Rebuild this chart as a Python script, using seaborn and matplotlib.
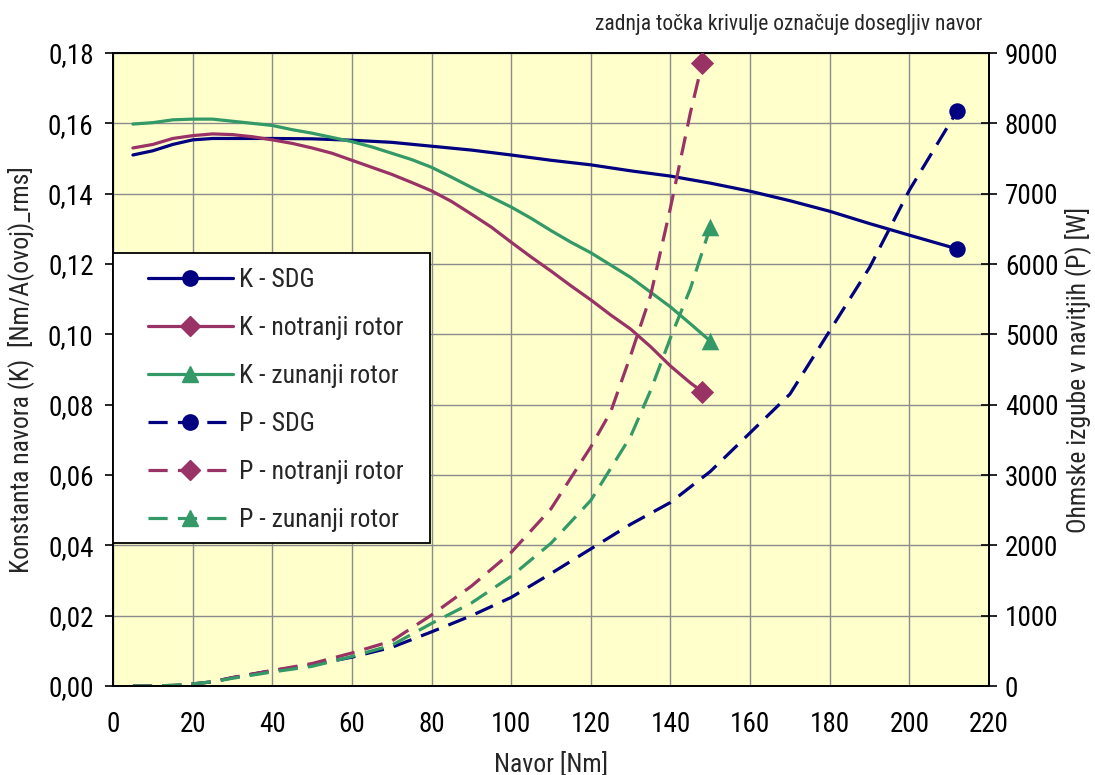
import numpy as np
import pandas as pd
import matplotlib
matplotlib.use("Agg")
import matplotlib.pyplot as plt
from matplotlib import font_manager
from matplotlib.lines import Line2D
from matplotlib.patches import Rectangle
from matplotlib.ticker import FuncFormatter
import seaborn as sns

# ---------------- data ----------------
x_k_sdg = [5, 10, 15, 20, 25, 30, 40, 50, 60, 70, 80, 90, 100, 110, 120, 130, 140, 150, 160, 170, 180, 190, 200, 212]
k_sdg = [0.1510, 0.1522, 0.1540, 0.1553, 0.1557, 0.1557, 0.1557, 0.1556, 0.1552, 0.1546, 0.1535, 0.1524, 0.1510,
         0.1495, 0.1482, 0.1465, 0.1450, 0.1430, 0.1407, 0.1380, 0.1350, 0.1315, 0.1282, 0.1243]

x_k_not = [5, 10, 15, 20, 25, 30, 35, 40, 45, 50, 55, 60, 65, 70, 75, 80, 85, 90, 95, 100, 105, 110, 115, 120,
           125, 130, 135, 140, 145, 148]
k_not = [0.1530, 0.1540, 0.1557, 0.1565, 0.1570, 0.1568, 0.1562, 0.1553, 0.1543, 0.1530, 0.1515, 0.1495, 0.1475,
         0.1455, 0.1432, 0.1408, 0.1378, 0.1342, 0.1305, 0.1262, 0.1220, 0.1180, 0.1138, 0.1098, 0.1055, 0.1015,
         0.0965, 0.0910, 0.0862, 0.0837]

x_k_zun = [5, 10, 15, 20, 25, 30, 35, 40, 45, 50, 55, 60, 65, 70, 75, 80, 85, 90, 95, 100, 105, 110, 115, 120,
           125, 130, 135, 140, 145, 150]
k_zun = [0.1598, 0.1602, 0.1610, 0.1612, 0.1612, 0.1606, 0.1600, 0.1594, 0.1582, 0.1572, 0.1560, 0.1548, 0.1533,
         0.1515, 0.1497, 0.1475, 0.1447, 0.1418, 0.1390, 0.1362, 0.1330, 0.1295, 0.1262, 0.1232, 0.1197, 0.1162,
         0.1120, 0.1078, 0.1030, 0.0981]

x_p_sdg = [5, 10, 15, 20, 25, 30, 40, 50, 60, 70, 80, 90, 100, 110, 120, 130, 140, 150, 160, 170, 180, 190, 200, 212]
p_sdg = [0, 0, 0, 30, 60, 120, 220, 300, 410, 550, 770, 1000, 1260, 1600, 1950, 2300, 2610, 3050, 3600, 4150,
         5050, 5950, 7050, 8175]

x_p_not = [5, 10, 15, 20, 25, 30, 40, 50, 60, 70, 80, 90, 100, 110, 120, 125, 130, 135, 140, 145, 148]
p_not = [0, 0, 10, 30, 60, 120, 220, 320, 470, 640, 1010, 1420, 1900, 2520, 3400, 3900, 4700, 5550, 6800, 8150, 8858]

x_p_zun = [5, 10, 15, 20, 25, 30, 40, 50, 60, 70, 80, 90, 100, 110, 120, 130, 135, 140, 145, 150]
p_zun = [0, 0, 10, 30, 60, 110, 200, 280, 420, 580, 890, 1180, 1560, 2030, 2640, 3550, 4200, 4950, 5650, 6525]

labels = ["K - SDG", "K - notranji rotor", "K - zunanji rotor",
          "P - SDG", "P - notranji rotor", "P - zunanji rotor"]
x_ticks = list(range(0, 221, 20))
y_left_ticks = [0.00, 0.02, 0.04, 0.06, 0.08, 0.10, 0.12, 0.14, 0.16, 0.18]
y_right_ticks = list(range(0, 9001, 1000))

# ---------------- style ----------------
sns.set_theme(style="white")
avail = {f.name for f in font_manager.fontManager.ttflist}
family = "DejaVu Sans"
for cand in ["Liberation Sans Narrow", "Roboto Condensed", "Open Sans Condensed", "Liberation Sans"]:
    if cand in avail:
        family = cand
        break
plt.rcParams["font.family"] = [family, "DejaVu Sans"]

NAVY = "#000080"
MAG = "#993366"
GRN = "#339966"
BG = "#FFFFCC"
dash = (6, 3.2)

fig = plt.figure(figsize=(10.95, 7.75), dpi=100)
ax = fig.add_axes([0.1032, 0.1148, 0.8000, 0.8168])
ax.set_facecolor(BG)
ax2 = ax.twinx()

lw = 2.3
def draw(axis, xs, ys, color, marker, ls, ms):
    df = pd.DataFrame({"x": xs, "y": ys})
    sns.lineplot(data=df, x="x", y="y", ax=axis, color=color, lw=lw, linestyle=ls,
                 sort=False, estimator=None, legend=False)
    if ls == "--":
        axis.lines[-1].set_dashes(dash)
    sns.scatterplot(data=df.iloc[[-1]], x="x", y="y", ax=axis, color=color, marker=marker,
                    s=ms, edgecolor=color, linewidth=0, legend=False, zorder=5)

draw(ax, x_k_sdg, k_sdg, NAVY, "o", "-", 140)
draw(ax, x_k_not, k_not, MAG, "D", "-", 140)
draw(ax, x_k_zun, k_zun, GRN, "^", "-", 160)
draw(ax2, x_p_sdg, p_sdg, NAVY, "o", "--", 140)
draw(ax2, x_p_not, p_not, MAG, "D", "--", 140)
draw(ax2, x_p_zun, p_zun, GRN, "^", "--", 160)

ax.set_xlim(0, 220)
ax.set_ylim(0, 0.18)
ax2.set_ylim(0, 9000)
ax.set_xticks(x_ticks)
ax.set_yticks(y_left_ticks)
ax2.set_yticks(y_right_ticks)
ax.yaxis.set_major_formatter(FuncFormatter(lambda v, p: f"{v:.2f}".replace(".", ",")))
ax2.yaxis.set_major_formatter(FuncFormatter(lambda v, p: f"{int(round(v))}"))

ax.grid(True, color="#8c8c8c", lw=1.0)
ax.set_axisbelow(True)
for a in (ax, ax2):
    for s in a.spines.values():
        s.set_color("black")
        s.set_linewidth(1.3)

tfs = 19.5
fs = 18.5
ax.tick_params(axis="x", labelsize=tfs, length=6, width=1.2, direction="out", colors="black", pad=12)
ax.tick_params(axis="y", labelsize=tfs, length=6, width=1.2, direction="out", colors="black", pad=8)
ax2.tick_params(axis="y", labelsize=tfs, length=11, width=1.2, direction="inout", colors="black", pad=6)
ax.set_xlabel("Navor [Nm]", fontsize=fs, labelpad=10)
ax.set_ylabel("Konstanta navora (K)  [Nm/A(ovoj)_rms]", fontsize=fs, labelpad=10)
ax2.set_ylabel("Ohmske izgube v navitjih (P) [W]", fontsize=fs, labelpad=4)

fig.text(0.897, 0.968, "zadnja točka krivulje označuje dosegljiv navor", ha="right", va="center",
         fontsize=15.5)

# legend: white box + frameless legend
box = Rectangle((0.0, 0.226), 0.362, 0.458, transform=ax2.transAxes, facecolor="white",
                edgecolor="black", lw=1.3, zorder=15, clip_on=False)
ax2.add_patch(box)

ms = 11
handles = [
    Line2D([], [], color=NAVY, lw=lw, marker="o", markersize=ms, markevery=[1]),
    Line2D([], [], color=MAG, lw=lw, marker="D", markersize=ms - 1, markevery=[1]),
    Line2D([], [], color=GRN, lw=lw, marker="^", markersize=ms + 1, markevery=[1]),
    Line2D([], [], color=NAVY, lw=lw, ls="--", dashes=dash, marker="o", markersize=ms, markevery=[1]),
    Line2D([], [], color=MAG, lw=lw, ls="--", dashes=dash, marker="D", markersize=ms - 1, markevery=[1]),
    Line2D([], [], color=GRN, lw=lw, ls="--", dashes=dash, marker="^", markersize=ms + 1, markevery=[1]),
]
for h in handles:
    h.set_xdata([0, 0.5, 1]); h.set_ydata([0, 0, 0])
leg = ax2.legend(handles, labels, loc="upper left", bbox_to_anchor=(0.040, 0.661), borderaxespad=0,
                 fontsize=fs, frameon=False, handlelength=3.3, handletextpad=0.25,
                 labelspacing=0.94, borderpad=0, numpoints=1)
leg.set_zorder(20)

fig.savefig("out.png", dpi=100, facecolor="white")
